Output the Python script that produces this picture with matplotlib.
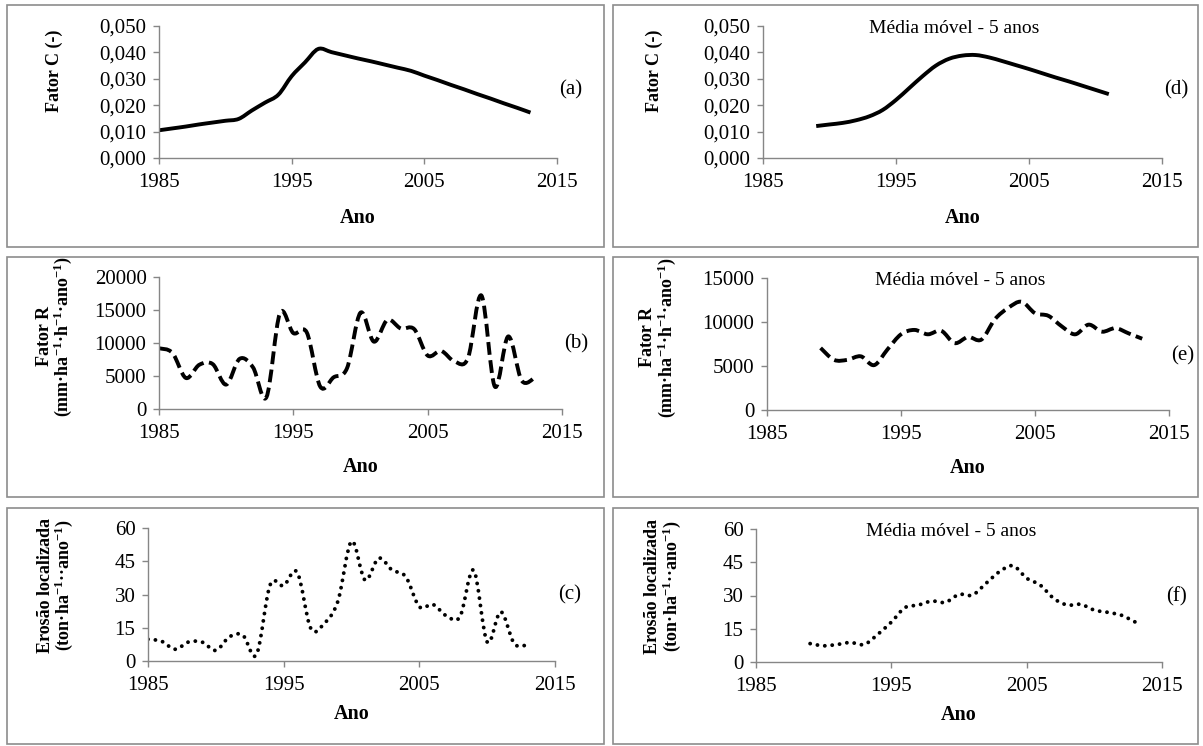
import numpy as np
import matplotlib
matplotlib.use("Agg")
import matplotlib.pyplot as plt
from matplotlib.path import Path
from matplotlib.patches import PathPatch, Rectangle
from matplotlib.ticker import FuncFormatter

plt.rcParams['font.family'] = ['Liberation Serif', 'DejaVu Serif']
plt.rcParams['mathtext.fontset'] = 'custom'
plt.rcParams['mathtext.rm'] = 'Liberation Serif'
plt.rcParams['mathtext.default'] = 'regular'

# dados anuais
anos = list(range(1985, 2014))
fator_c = [0.0105, 0.0112, 0.0119, 0.0127, 0.0134, 0.0141, 0.0148, 0.0180, 0.0210, 0.0240,
           0.0310, 0.0362, 0.0413, 0.0401, 0.0389, 0.0377, 0.0366, 0.0354, 0.0342, 0.0330,
           0.0312, 0.0295, 0.0277, 0.0260, 0.0242, 0.0225, 0.0207, 0.0190, 0.0172]
fator_r = [9200, 8500, 4700, 6700, 6800, 3700, 7600, 6300, 1800, 14500,
           11500, 11600, 3400, 4800, 6200, 14600, 10200, 13500, 12200, 12100,
           8100, 8800, 7200, 7700, 17200, 3400, 11000, 4300, 4800]
erosao = [9.8, 8.9, 5.3, 8.6, 8.5, 4.8, 10.9, 11.6, 2.9, 34.3,
          34.0, 40.0, 14.7, 17.0, 27.0, 54.0, 36.5, 46.4, 41.0, 38.0,
          24.5, 25.5, 20.4, 20.0, 41.0, 8.6, 22.2, 7.8, 7.4]

# media movel - 5 anos
anos_c_mm = list(range(1989, 2012))
fator_c_mm = [0.0121, 0.0127, 0.0133, 0.0143, 0.0158, 0.0182, 0.0220, 0.0265, 0.0310, 0.0350,
              0.0376, 0.0388, 0.0390, 0.0381, 0.0367, 0.0352, 0.0337, 0.0321, 0.0305, 0.0290,
              0.0274, 0.0258, 0.0242]
anos_mm = list(range(1989, 2014))
fator_r_mm = [7050, 5700, 5700, 6100, 5100, 6900, 8600, 9100, 8600, 9000,
              7600, 8300, 8000, 10300, 11600, 12300, 11000, 10700, 9500, 8600,
              9700, 8900, 9300, 8700, 8100]
erosao_mm = [8.3, 7.3, 7.9, 8.8, 7.9, 12.5, 18.0, 24.5, 25.7, 27.5,
             26.9, 30.5, 30.2, 35.5, 40.8, 43.4, 37.8, 34.7, 28.7, 25.7,
             26.0, 23.4, 22.4, 21.1, 18.1]

x_ticks = [1985, 1995, 2005, 2015]
W, H = 1203, 746
CINZA = '#868686'


def curva_suave(x, y):
    # linha suavizada (tipo Excel) com curvas de Bezier
    pts = np.column_stack([np.asarray(x, float), np.asarray(y, float)])
    n = len(pts)
    verts = [pts[0]]
    codes = [Path.MOVETO]
    for i in range(n - 1):
        p0 = pts[i - 1] if i > 0 else pts[i]
        p1, p2 = pts[i], pts[i + 1]
        p3 = pts[i + 2] if i + 2 < n else pts[i + 1]
        verts += [p1 + (p2 - p0) / 6, p2 - (p3 - p1) / 6, p2]
        codes += [Path.CURVE4] * 3
    return Path(verts, codes)


def painel(box, x, y, estilo, ylim, yticks, fmt, ylabel, ylab_pos, letra,
           ano_y, media=False):
    x0, x1, y0, y1 = box
    ax = fig.add_axes([x0 / W, 1 - y1 / H, (x1 - x0) / W, (y1 - y0) / H])
    ax.set_xlim(1985, 2015)
    ax.set_ylim(*ylim)
    ax.set_xticks(x_ticks)
    ax.set_yticks(yticks)
    ax.yaxis.set_major_formatter(FuncFormatter(fmt))
    for s in ['top', 'right']:
        ax.spines[s].set_visible(False)
    for s in ['left', 'bottom']:
        ax.spines[s].set_color(CINZA)
        ax.spines[s].set_linewidth(1.0)
    ax.tick_params(direction='out', length=4, width=1, color=CINZA,
                   labelsize=15, labelcolor='black')
    ax.tick_params(axis='x', pad=6.5)
    ax.tick_params(axis='y', pad=5)
    patch = PathPatch(curva_suave(x, y), fill=False, color='black', lw=2.8,
                      joinstyle='round', **estilo)
    ax.add_patch(patch)
    ax.set_xlabel('Ano', fontsize=14.5, fontweight='bold', va='center')
    ax.xaxis.set_label_coords(0.5, ano_y)
    ax.set_ylabel(ylabel, fontsize=13, fontweight='bold', va='center',
                  linespacing=0.95)
    ax.yaxis.set_label_coords(*ylab_pos)
    ax.text(1.035, letra, '(' + 'abcdef'[len(fig.axes) - 1] + ')',
            transform=ax.transAxes, ha='center', va='center', fontsize=15)
    if media:
        ax.text(0.48, 0.98, 'Média móvel - 5 anos', transform=ax.transAxes,
                ha='center', va='center', fontsize=14)
    return ax


fig = plt.figure(figsize=(W / 100, H / 100), dpi=100)

# molduras dos paineis
for fx0, fx1 in [(7, 604), (613, 1198)]:
    for fy0, fy1 in [(5, 247), (257, 497), (508, 744)]:
        fig.add_artist(Rectangle((fx0 / W, 1 - fy1 / H), (fx1 - fx0) / W,
                                 (fy1 - fy0) / H, transform=fig.transFigure,
                                 fill=False, ec='#8c8c8c', lw=1.2))

fmt_c = lambda v, p: f'{v:.3f}'.replace('.', ',')
fmt_i = lambda v, p: f'{v:.0f}'
solida = dict(linestyle='-', capstyle='butt')
tracejada = dict(linestyle=(0, (3.3, 1.4)), capstyle='butt')
pontilhada = dict(linestyle=(0, (0.01, 1.9)), capstyle='round')
lab_r = 'Fator R\n(mm·ha$^{-1}$·h$^{-1}$·ano$^{-1}$)'
lab_e = 'Erosão localizada\n(ton·ha$^{-1}$··ano$^{-1}$)'

painel((159, 557, 26, 158), anos, fator_c, solida, (0, 0.05),
       np.arange(0, 0.051, 0.01), fmt_c, 'Fator C (-)', (-0.264, 0.66), 0.52, -0.455)
painel((159, 562, 277, 409), anos, fator_r, tracejada, (0, 20000),
       range(0, 20001, 5000), fmt_i, lab_r, (-0.258, 0.55), 0.49, -0.44)
painel((148, 555, 528, 661), anos, erosao, pontilhada, (0, 60),
       range(0, 61, 15), fmt_i, lab_e, (-0.226, 0.57), 0.50, -0.40)
painel((763, 1162, 26, 158), anos_c_mm, fator_c_mm, solida, (0, 0.05),
       np.arange(0, 0.051, 0.01), fmt_c, 'Fator C (-)', (-0.273, 0.66), 0.52, -0.455,
       media=True)
painel((767, 1169, 278, 410), anos_mm, fator_r_mm, tracejada, (0, 15000),
       range(0, 15001, 5000), fmt_i, lab_r, (-0.27, 0.55), 0.41, -0.44, media=True)
painel((756, 1162, 529, 662), anos_mm, erosao_mm, pontilhada, (0, 60),
       range(0, 61, 15), fmt_i, lab_e, (-0.227, 0.57), 0.49, -0.40, media=True)

fig.savefig('out.png', dpi=100)
